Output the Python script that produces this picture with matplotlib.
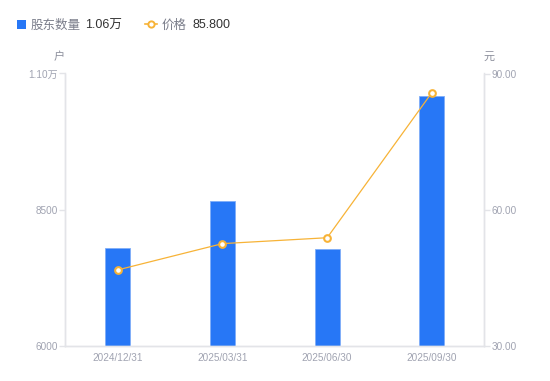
import matplotlib
matplotlib.use("Agg")
import matplotlib.pyplot as plt
from matplotlib.ticker import FixedLocator, FuncFormatter
from matplotlib.patches import Rectangle
from matplotlib.lines import Line2D

plt.rcParams['font.family'] = ['Liberation Sans', 'Noto Sans CJK SC', 'DejaVu Sans']

categories = ["2024/12/31", "2025/03/31", "2025/06/30", "2025/09/30"]
holders = [7790, 8660, 7775, 10580]
prices = [46.7, 52.5, 53.8, 85.8]
left_ticks = [6000, 8500, 11000]
right_ticks = [30, 60, 90]

BAR = "#2777F6"
LINE = "#F7B337"
TICK = "#A0A3B1"
AXIS = "#E3E4E8"

fig = plt.figure(figsize=(5.5, 3.81), dpi=100)
ax = fig.add_axes([65.3/550, 1-345.7/381, (484.3-65.3)/550, (345.7-73.5)/381])
ax2 = ax.twinx()

x = list(range(len(categories)))
ax.bar(x, [h - 6000 for h in holders], bottom=6000, width=0.24, color=BAR,
       edgecolor="#7FAEF8", linewidth=0.6, zorder=2)
ax.set_xlim(-0.5, 3.5)
ax.set_ylim(6000, 11000)
ax2.set_ylim(30, 90)

ax2.plot(x, prices, color=LINE, linewidth=0.9, marker='o', markersize=4.8,
         markerfacecolor='white', markeredgecolor=LINE, markeredgewidth=1.5, zorder=3)

ax.yaxis.set_major_locator(FixedLocator(left_ticks))
ax.yaxis.set_major_formatter(FuncFormatter(lambda v, p: f"{v/10000:.2f}万" if v >= 10000 else f"{int(v)}"))
ax2.yaxis.set_major_locator(FixedLocator(right_ticks))
ax2.yaxis.set_major_formatter(FuncFormatter(lambda v, p: f"{v:.2f}"))
ax.set_xticks(x)
ax.set_xticklabels(categories)

for a in (ax, ax2):
    for s in a.spines.values():
        s.set_color(AXIS)
        s.set_linewidth(1)
    a.spines['top'].set_visible(False)
    a.tick_params(axis='y', colors=AXIS, labelcolor=TICK, labelsize=7.2, length=4, width=1, pad=1)
ax.tick_params(axis='x', length=0, labelcolor=TICK, labelsize=7.2, pad=5)

fig.text(59/550, 1-57/381, "户", color="#8C8F9C", fontsize=8, ha='center', va='center')
fig.text(489/550, 1-57/381, "元", color="#8C8F9C", fontsize=8, ha='center', va='center')

# legend
LY = 1 - 25.5/381
fig.patches.append(Rectangle((17/550, 1-28.5/381), 9/550, 9/381, transform=fig.transFigure,
                             facecolor=BAR, edgecolor='none'))
fig.text(31/550, LY, "股东数量", color="#7A7D8A", fontsize=9, va='center')
fig.text(85/550, LY, "1.06万", color="#333333", fontsize=9, va='center')
fig.lines.append(Line2D([145/550, 151/550, 157/550], [1-24/381]*3, transform=fig.transFigure,
                        color=LINE, linewidth=1.2, marker='o', markersize=4.5,
                        markevery=[1], markerfacecolor='white', markeredgecolor=LINE, markeredgewidth=1.4))
fig.text(162/550, LY, "价格", color="#7A7D8A", fontsize=9, va='center')
fig.text(192/550, LY, "85.800", color="#333333", fontsize=9, va='center')

fig.savefig("out.png", dpi=100)
